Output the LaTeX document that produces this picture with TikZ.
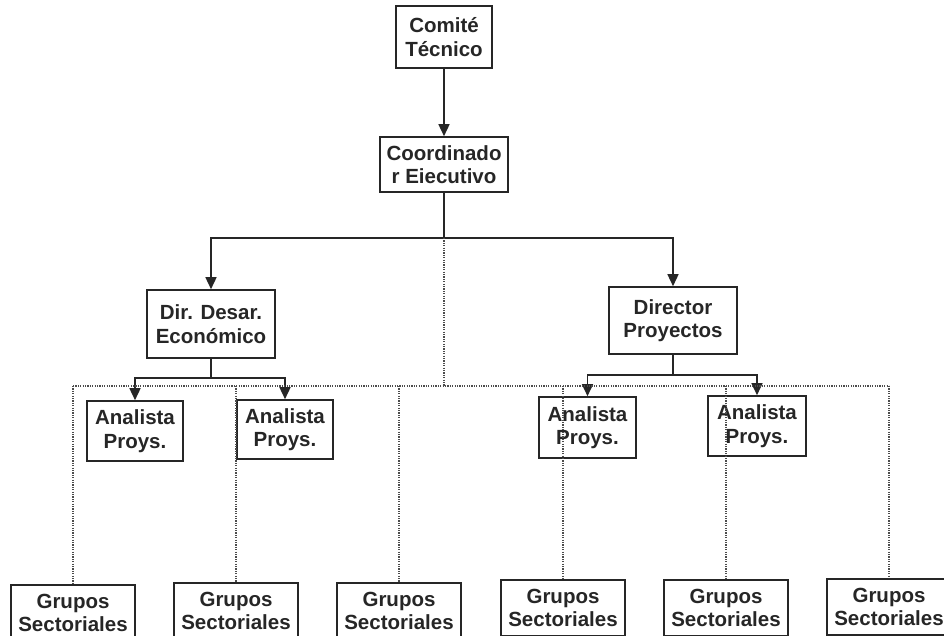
\documentclass[tikz,border=0pt]{standalone}
\usepackage{fontspec}
\setmainfont{Liberation Sans}
\usetikzlibrary{arrows.meta}
\begin{document}
\begin{tikzpicture}[x=1pt,y=-1pt,
  box/.style={draw=black!85,line width=1.6pt,rectangle,align=center,inner sep=0pt,
    font=\fontsize{20.5}{23.5}\selectfont\bfseries,text=black!85},
  conn/.style={draw=black!85,line width=1.5pt},
  arr/.style={conn,-{Triangle[width=11pt,length=12pt]}},
  dots/.style={draw=black!70,line width=1.2pt,dash pattern=on 1.2pt off 1.2pt}]
\useasboundingbox (0,0) rectangle (944,636);
\clip (0,0) rectangle (944,636);
\fill[white] (0,0) rectangle (944,636);
% top
\node[box,minimum width=96pt,minimum height=62pt] (ct) at (444,37) {Comité\\Técnico};
\node[box,minimum width=128pt,minimum height=55pt] (ce) at (444,164.5) {Coordinado\\r Eiecutivo};
\node[box,minimum width=128pt,minimum height=68pt] (dde) at (211,324) {Dir. Desar.\\Económico};
\node[box,minimum width=128pt,minimum height=67pt] (dp) at (673,320.5) {Director\\Proyectos};
\node[box,minimum width=96pt,minimum height=60pt] (a1) at (135,431) {Analista\\Proys.};
\node[box,minimum width=96pt,minimum height=59pt] (a2) at (285,429.5) {Analista\\Proys.};
\node[box,minimum width=97pt,minimum height=61pt] (a3) at (587.5,427.5) {Analista\\Proys.};
\node[box,minimum width=98pt,minimum height=60pt] (a4) at (757,426) {Analista\\Proys.};
% bottom
\foreach \n/\x/\y in {g1/73/584,g2/236/582,g3/399/582,g4/563/579,g5/726/579,g6/889/578}{
  \node[box,anchor=north,minimum width=124pt,minimum height=56pt] (\n) at (\x,\y)
    {Grupos\\Sectoriales};
}
% solid connectors
\coordinate (j1) at (444,238);
\coordinate (j2) at (211,378);
\coordinate (j3) at (673,375);
\coordinate (hl) at (0,386);
\draw[arr] (ct) -- (ce);
\draw[conn] (ce) -- (j1);
\draw[arr] (j1) -| (dde);
\draw[arr] (j1) -| (dp);
\draw[conn] (dde) -- (j2);
\draw[arr] (j2) -| (a1);
\draw[arr] (j2) -| (a2);
\draw[conn] (dp) -- (j3);
\draw[arr] (j3) -| (a3);
\draw[arr] (j3) -| (a4);
% dotted connectors
\draw[dots] (j1) -- (j1 |- hl);
\draw[dots] (g1.north |- hl) -- (g6.north |- hl);
\foreach \n in {g1,g2,g3,g4,g5,g6}{
  \draw[dots] (\n.north |- hl) -- (\n.north);
}
\end{tikzpicture}
\end{document}
